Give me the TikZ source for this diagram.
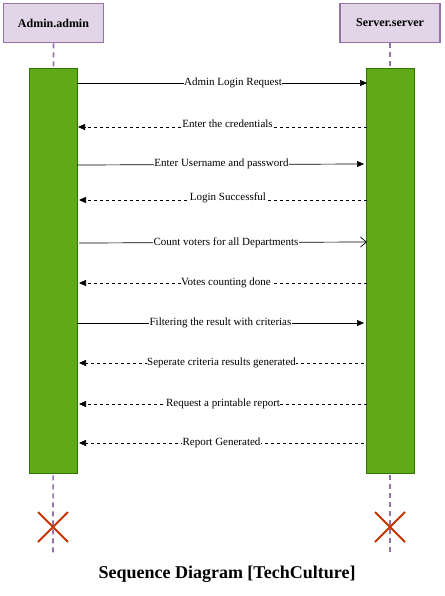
\documentclass[tikz,border=0pt]{standalone}
\usepackage{fontspec}
\setmainfont{Liberation Serif}
\usetikzlibrary{arrows.meta,calc}
\definecolor{headfill}{HTML}{E1D5E7}
\definecolor{headdraw}{HTML}{9673A6}
\definecolor{barfill}{HTML}{60A917}
\definecolor{bardraw}{HTML}{2D7600}
\definecolor{xred}{HTML}{C73500}
\tikzset{
  head/.style={draw=headdraw, fill=headfill, line width=1.6pt, minimum width=100pt, minimum height=39pt, inner sep=0pt, font=\bfseries\fontsize{12}{14}\selectfont},
  bar/.style={draw=bardraw, fill=barfill, line width=0.6pt, minimum width=48pt, minimum height=405pt, inner sep=0pt},
  life/.style={draw=headdraw, line width=1.6pt, dash pattern=on 5pt off 4pt},
  call/.style={draw=black, line width=0.7pt, -{Triangle[length=7pt,width=6pt]}},
  ret/.style={draw=black, line width=0.7pt, dash pattern=on 3pt off 3pt, -{Triangle[length=7pt,width=6pt]}},
  opencall/.style={draw=black, line width=0.7pt, -{Straight Barb[length=6pt,width=10pt]}},
  lbl/.style={fill=white, inner sep=0.3pt, font=\fontsize{11}{12}\selectfont},
  kill/.style={draw=xred, line width=2pt},
}
\begin{document}
\begin{tikzpicture}[x=1pt,y=-1pt]
\useasboundingbox (0,0) rectangle (444,596);
% heads
\node[head] (admin) at (53.5,23) {Admin.admin};
\node[head] (server) at (390,23) {Server.server};
% lifelines
\coordinate (aend) at (53,553);
\coordinate (send) at (390,553);
\draw[life] (admin.south) -- (aend);
\draw[life] (server.south) -- (send);
% activation bars
\node[bar] (abar) at (53,270.5) {};
\node[bar] (sbar) at (390.5,270.5) {};
% crosses
\coordinate (ax) at (53,527);
\coordinate (sx) at (390,527);
\draw[kill] ($(ax)+(-15,-15)$) -- ($(ax)+(15,15)$) ($(ax)+(-15,15)$) -- ($(ax)+(15,-15)$);
\draw[kill] ($(sx)+(-15,-15)$) -- ($(sx)+(15,15)$) ($(sx)+(-15,15)$) -- ($(sx)+(15,-15)$);
% message endpoints
\coordinate (m1a) at (77,83);   \coordinate (m1b) at (367,83);
\coordinate (m2a) at (78,127);  \coordinate (m2b) at (367,127);
\coordinate (m3a) at (77,165);  \coordinate (m3b) at (364,164);
\coordinate (m4a) at (79,200);  \coordinate (m4b) at (367,200);
\coordinate (m5a) at (79,243);  \coordinate (m5b) at (367,242);
\coordinate (m6a) at (79,283);  \coordinate (m6b) at (367,283);
\coordinate (m7a) at (77,323);  \coordinate (m7b) at (364,323);
\coordinate (m8a) at (79,363);  \coordinate (m8b) at (364,363);
\coordinate (m9a) at (79,404);  \coordinate (m9b) at (367,404);
\coordinate (m10a) at (79,443); \coordinate (m10b) at (364,443);
% messages
\draw[call] (m1a) -- node[lbl, xshift=11pt] {Admin Login Request} (m1b);
\draw[ret] (m2b) -- node[lbl, yshift=3pt, xshift=5pt] {Enter the credentials} (m2a);
\draw[call] (m3a) -- node[lbl, yshift=1pt, xshift=1pt] {Enter Username and password} (m3b);
\draw[ret] (m4b) -- node[lbl, yshift=2pt, xshift=5pt] {Login Successful} (m4a);
\draw[opencall] (m5a) -- node[lbl, xshift=3pt] {Count voters for all Departments\ } (m5b);
\draw[ret] (m6b) -- node[lbl, xshift=3pt] {Votes counting done} (m6a);
\draw[call] (m7a) -- node[lbl] {Filtering the result with criterias} (m7b);
\draw[ret] (m8b) -- node[lbl] {Seperate criteria results generated} (m8a);
\draw[ret] (m9b) -- node[lbl] {Request a printable report} (m9a);
\draw[ret] (m10b) -- node[lbl] {Report Generated} (m10a);
% title
\node[font=\bfseries\fontsize{18}{20}\selectfont] (title) at (227,574) {Sequence Diagram [TechCulture]};
\end{tikzpicture}
\end{document}
